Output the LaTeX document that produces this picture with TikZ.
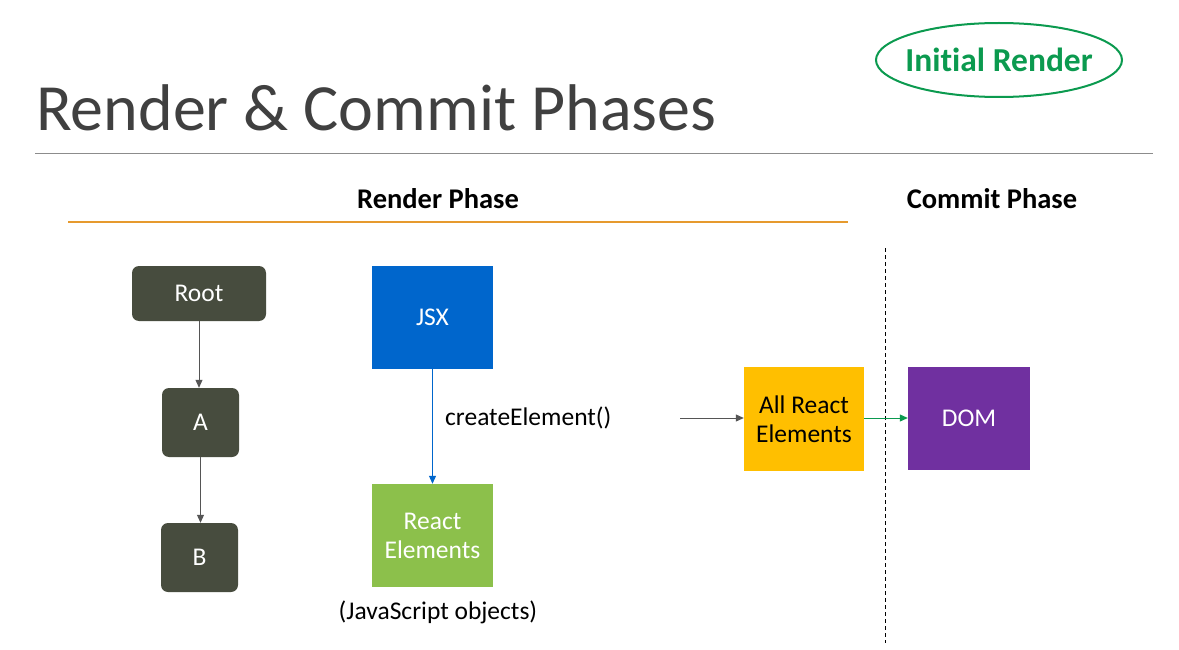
\documentclass[tikz,border=0pt]{standalone}
\usepackage{fontspec}
\setmainfont{Carlito}[Ligatures={NoCommon}]
\usetikzlibrary{arrows.meta,shapes.geometric}
\definecolor{titlegray}{HTML}{404040}
\definecolor{rulegray}{HTML}{8C8C8C}
\definecolor{phaseorange}{HTML}{E69A2E}
\definecolor{treegray}{HTML}{474C3E}
\definecolor{jsxblue}{HTML}{0066CC}
\definecolor{reactgreen}{HTML}{8CC04B}
\definecolor{amber}{HTML}{FFBF00}
\definecolor{dompurple}{HTML}{7030A0}
\definecolor{initgreen}{HTML}{0B9A4F}
\definecolor{arrowgray}{HTML}{555555}
\begin{document}
\begin{tikzpicture}[x=1pt,y=-1pt,
  treebox/.style={draw=none,fill=treegray,rounded corners=7pt,text=white,font=\fontsize{25.5}{29}\selectfont,inner sep=0pt},
  sqbox/.style={draw=none,inner sep=0pt,font=\fontsize{25.5}{29}\selectfont,align=center},
  treearrow/.style={draw=arrowgray,line width=1pt,-{Triangle[length=8pt,width=7pt]}},
  phasehead/.style={font=\fontsize{28.5}{33}\selectfont\bfseries,anchor=base},
  label/.style={font=\fontsize{25.5}{29}\selectfont,inner sep=0pt}
]
\useasboundingbox[fill=white] (0,0) rectangle (1179,650);
% title
\node[anchor=base west,inner sep=0pt,text=titlegray,font=\fontsize{66}{76}\selectfont] (title) at (36,131) {Render \& Commit Phases};
\draw[rulegray,line width=1pt] (35,154) -- (1153,154);
% initial render badge
\node[inner sep=0pt,text=initgreen,font=\fontsize{33.5}{38}\selectfont\bfseries] (init) at (999,60) {Initial Render};
\draw[initgreen,line width=2pt] (init.center) ellipse [x radius=123pt, y radius=37pt];
% phase headers
\node[phasehead] (rp) at (438,208) {Render Phase};
\node[phasehead] (cp) at (992,208) {Commit Phase};
\draw[phaseorange,line width=1.3pt] (68,222) -- (848,222);
\draw[black,line width=1pt,dash pattern=on 4pt off 3pt] (885,248) -- (885,643);
% tree
\node[treebox,minimum width=134pt,minimum height=55pt] (root) at (199,293.5) {Root};
\node[treebox,minimum width=77pt,minimum height=69pt] (a) at (200.5,422.5) {A};
\node[treebox,minimum width=77pt,minimum height=69pt] (b) at (199.5,557.5) {B};
\draw[treearrow] (root.south) -- (a.north -| root.south);
\draw[treearrow] (a.south) -- (b.north -| a.south);
% jsx
\node[sqbox,fill=jsxblue,text=white,minimum width=121pt,minimum height=103pt] (jsx) at (432.5,317.5) {JSX};
\node[sqbox,fill=reactgreen,text=white,minimum width=121pt,minimum height=103pt] (re) at (432.5,535.5) {React\\Elements};
\draw[draw=jsxblue,line width=1pt,-{Triangle[length=8pt,width=7pt]}] (jsx.south) -- (re.north);
\node[label,anchor=west] (ce) at (445,418) {createElement()};
\node[label] (jso) at (438,612) {(JavaScript objects)};
% all react elements and dom
\node[sqbox,fill=amber,text=black,minimum width=120pt,minimum height=104pt] (all) at (804,419) {All React\\Elements};
\node[sqbox,fill=dompurple,text=white,minimum width=122pt,minimum height=103pt] (dom) at (969,418.5) {DOM};
\coordinate (start) at (680,418);
\draw[treearrow] (start) -- (all.west |- start);
\draw[draw=initgreen,line width=1pt,-{Triangle[length=8pt,width=7pt]}] (all.east |- start) -- (dom.west |- start);
\end{tikzpicture}
\end{document}
